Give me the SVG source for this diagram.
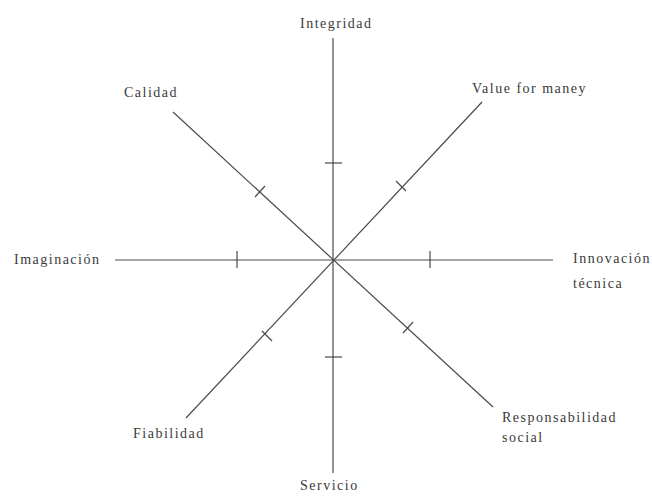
<svg xmlns="http://www.w3.org/2000/svg" width="652" height="496" viewBox="0 0 652 496">
<style>
.ax{stroke:#4a4a4a;stroke-width:1.2;fill:none}
.tk{stroke:#4a4a4a;stroke-width:1.2;fill:none}
text{font-family:"Liberation Serif","DejaVu Serif",serif;font-size:14px;letter-spacing:1.5px;fill:#3a3a3a}
</style>
<rect width="652" height="496" fill="#fff"/>
<g id="connectors">
<line class="ax" x1="333" y1="38" x2="333" y2="473"/>
<line class="ax" x1="115" y1="260" x2="553" y2="260"/>
<line class="ax" x1="173" y1="112" x2="493" y2="407"/>
<line class="ax" x1="482" y1="102" x2="186" y2="418"/>
<line class="tk" x1="325" y1="163" x2="342" y2="163"/>
<line class="tk" x1="325" y1="357" x2="342" y2="357"/>
<line class="tk" x1="237" y1="251" x2="237" y2="268"/>
<line class="tk" x1="430" y1="251" x2="430" y2="268"/>
<line class="tk" x1="255" y1="197" x2="265" y2="186"/>
<line class="tk" x1="396" y1="181" x2="406" y2="191"/>
<line class="tk" x1="262" y1="331" x2="272" y2="341"/>
<line class="tk" x1="403" y1="333" x2="413" y2="322"/>
</g>
<g id="n-integridad"><text x="300" y="28">Integridad</text></g>
<g id="n-calidad"><text x="124" y="97">Calidad</text></g>
<g id="n-value"><text x="472" y="93">Value for maney</text></g>
<g id="n-imaginacion"><text x="14" y="264">Imaginación</text></g>
<g id="n-innovacion"><text x="573" y="263">Innovación</text><text x="573" y="288">técnica</text></g>
<g id="n-fiabilidad"><text x="133" y="438">Fiabilidad</text></g>
<g id="n-responsabilidad"><text x="502" y="422">Responsabilidad</text><text x="502" y="442">social</text></g>
<g id="n-servicio"><text x="300" y="490">Servicio</text></g>
</svg>
